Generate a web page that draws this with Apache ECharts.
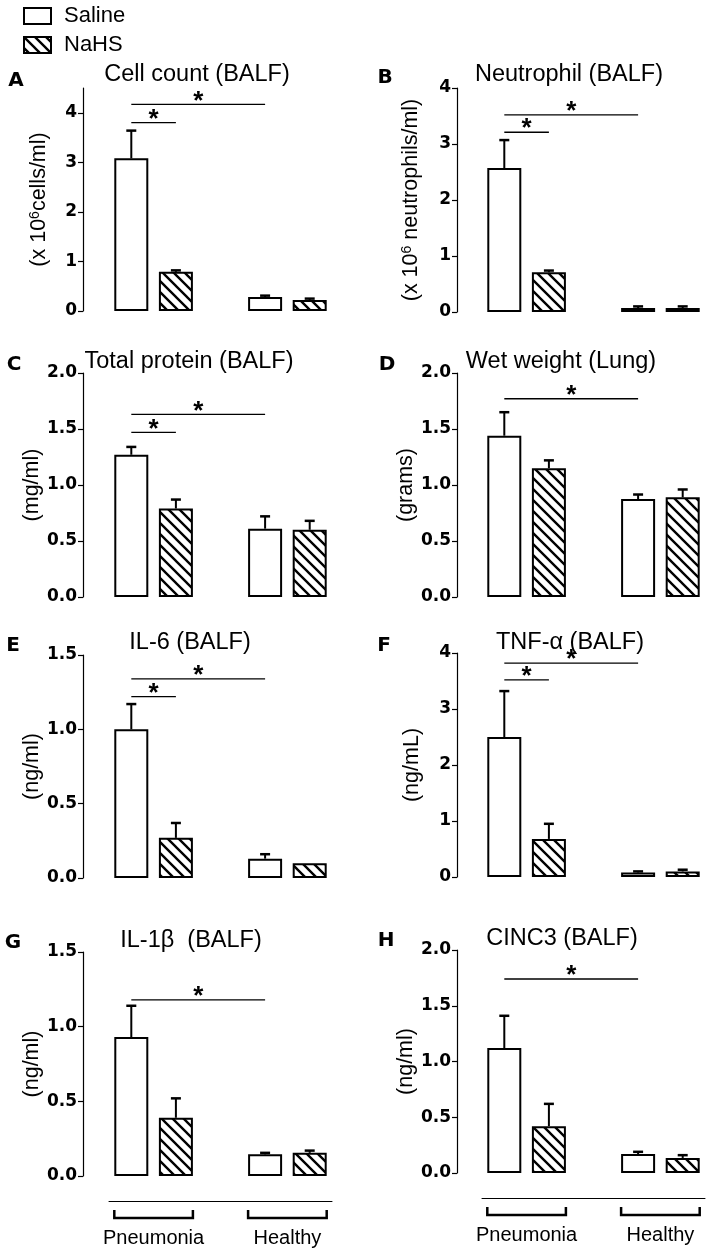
<!DOCTYPE html>
<html>
<head>
<meta charset="utf-8">
<script src="https://cdn.jsdelivr.net/npm/echarts@6/dist/echarts.min.js"></script>
<style>
  html, body { margin: 0; padding: 0; background: #fff; }
  #chart { width: 710px; height: 1254px; }
</style>
</head>
<body>
<div id="chart"></div>
<script>
// x slots: two bars per group with an empty slot between the groups
const categories = ['Pneumonia Saline', 'Pneumonia NaHS', '', 'Healthy Saline', 'Healthy NaHS'];
const groupNames = ['Pneumonia', 'Healthy'];
const barSlots = [0, 1, 3, 4];

// mean / SEM, order: pneumonia saline, pneumonia NaHS, healthy saline, healthy NaHS
const cellCountMean = [3.08, 0.79, 0.28, 0.22];
const cellCountSem = [0.56, 0.03, 0.03, 0.03];
const neutrophilMean = [2.57, 0.71, 0.07, 0.07];
const neutrophilSem = [0.50, 0.03, 0.03, 0.03];
const proteinMean = [1.27, 0.79, 0.61, 0.60];
const proteinSem = [0.07, 0.08, 0.11, 0.08];
const wetWeightMean = [1.44, 1.15, 0.875, 0.89];
const wetWeightSem = [0.21, 0.07, 0.04, 0.07];
const il6Mean = [1.00, 0.27, 0.13, 0.10];
const il6Sem = [0.17, 0.10, 0.03, 0];
const tnfMean = [2.50, 0.68, 0.08, 0.10];
const tnfSem = [0.82, 0.27, 0.02, 0.03];
const il1bMean = [0.93, 0.39, 0.145, 0.155];
const il1bSem = [0.21, 0.13, 0.01, 0.015];
const cinc3Mean = [1.12, 0.42, 0.17, 0.135];
const cinc3Sem = [0.29, 0.20, 0.02, 0.025];

// significance bars: [from slot, to slot, height]
const cellCountSig = [[0, 3, 4.17], [0, 1, 3.8]];
const neutrophilSig = [[0, 3, 3.52], [0, 1, 3.21]];
const proteinSig = [[0, 3, 1.63], [0, 1, 1.47]];
const wetWeightSig = [[0, 3, 1.77]];
const il6Sig = [[0, 3, 1.34], [0, 1, 1.22]];
const tnfSig = [[0, 3, 3.82], [0, 1, 3.52]];
const il1bSig = [[0, 3, 1.18]];
const cinc3Sig = [[0, 3, 1.74]];

// y tick values
const ticks4 = [0, 1, 2, 3, 4];
const ticks2 = [0, 0.5, 1, 1.5, 2];
const ticks15 = [0, 0.5, 1, 1.5];

const FONT = '"Liberation Sans", Arial, sans-serif';
const BOLD_FONT = '"DejaVu Sans", "Liberation Sans", sans-serif';
const BAR_W = 34;

const panels = [
  {letter: 'A', title: 'Cell count (BALF)', yName: '(x 10{sup|6}cells/ml)', mean: cellCountMean, sem: cellCountSem, sig: cellCountSig,
    max: 4.5, ticks: ticks4, dec: 0, left: 109, axisX: 83, top: 88, height: 223, tx: 197, ty: 75, lx: 16, ly: 81, gap: 33},
  {letter: 'B', title: 'Neutrophil (BALF)', yName: '(x 10{sup|6} neutrophils/ml)', mean: neutrophilMean, sem: neutrophilSem, sig: neutrophilSig,
    max: 4, ticks: ticks4, dec: 0, left: 482, axisX: 457, top: 88, height: 224, tx: 569, ty: 75, lx: 385, ly: 78, gap: 35},
  {letter: 'C', title: 'Total protein (BALF)', yName: '(mg/ml)', mean: proteinMean, sem: proteinSem, sig: proteinSig,
    max: 2, ticks: ticks2, dec: 1, left: 109, axisX: 83, top: 373, height: 224, tx: 189, ty: 362, lx: 14, ly: 365, gap: 33},
  {letter: 'D', title: 'Wet weight (Lung)', yName: '(grams)', mean: wetWeightMean, sem: wetWeightSem, sig: wetWeightSig,
    max: 2, ticks: ticks2, dec: 1, left: 482, axisX: 457, top: 373, height: 224, tx: 561, ty: 362, lx: 387, ly: 365, gap: 39},
  {letter: 'E', title: 'IL-6 (BALF)', yName: '(ng/ml)', mean: il6Mean, sem: il6Sem, sig: il6Sig,
    max: 1.5, ticks: ticks15, dec: 1, left: 109, axisX: 83, top: 655, height: 223, tx: 190, ty: 643, lx: 13, ly: 646, gap: 33},
  {letter: 'F', title: 'TNF-α (BALF)', yName: '(ng/mL)', mean: tnfMean, sem: tnfSem, sig: tnfSig,
    max: 4, ticks: ticks4, dec: 0, left: 482, axisX: 457, top: 653, height: 224, tx: 570, ty: 643, lx: 384, ly: 646, gap: 34},
  {letter: 'G', title: 'IL-1β  (BALF)', yName: '(ng/ml)', mean: il1bMean, sem: il1bSem, sig: il1bSig,
    max: 1.5, ticks: ticks15, dec: 1, left: 109, axisX: 83, top: 952, height: 224, tx: 191, ty: 941, lx: 13, ly: 943, gap: 33, base: true},
  {letter: 'H', title: 'CINC3 (BALF)', yName: '(ng/ml)', mean: cinc3Mean, sem: cinc3Sem, sig: cinc3Sig,
    max: 2, ticks: ticks2, dec: 1, left: 482, axisX: 457, top: 950, height: 223, tx: 562, ty: 939, lx: 386, ly: 941, gap: 35, base: true}
];

// diagonal hatch tile for the NaHS bars
function hatchTile() {
  const s = 11;
  const c = document.createElement('canvas');
  c.width = s; c.height = s;
  const ctx = c.getContext('2d');
  ctx.fillStyle = '#fff';
  ctx.fillRect(0, 0, s, s);
  ctx.strokeStyle = '#000';
  ctx.lineWidth = 2.4;
  ctx.beginPath();
  ctx.moveTo(-1, -1); ctx.lineTo(s + 1, s + 1);
  ctx.moveTo(-2, s - 2); ctx.lineTo(2, s + 2);
  ctx.moveTo(s - 2, -2); ctx.lineTo(s + 2, 2);
  ctx.stroke();
  return c;
}
const hatch = {image: hatchTile(), repeat: 'repeat'};

function slotData(vals, idx) {
  const out = categories.map(() => '-');
  idx.forEach(i => { out[barSlots[i]] = vals[i]; });
  return out;
}

function errorItem(params, api) {
  const x = api.value(0);
  const p0 = api.coord([x, api.value(1)]);
  const p1 = api.coord([x, api.value(2)]);
  if (p0[1] - p1[1] < 0.5) return null;
  return {type: 'group', children: [
    {type: 'line', shape: {x1: p0[0], y1: p0[1], x2: p1[0], y2: p1[1]}, style: {stroke: '#000', lineWidth: 2}},
    {type: 'line', shape: {x1: p1[0] - 5, y1: p1[1], x2: p1[0] + 5, y2: p1[1]}, style: {stroke: '#000', lineWidth: 2.5}}
  ]};
}

function sigItem(params, api) {
  const a = api.coord([api.value(0), api.value(2)]);
  const b = api.coord([api.value(1), api.value(2)]);
  return {type: 'group', children: [
    {type: 'line', shape: {x1: a[0], y1: a[1], x2: b[0], y2: b[1]}, style: {stroke: '#000', lineWidth: 1.3}},
    {type: 'text', style: {text: '*', x: (a[0] + b[0]) / 2, y: a[1] - 3, align: 'center', verticalAlign: 'middle',
      font: 'bold 26px ' + FONT, fill: '#000'}}
  ]};
}

function groupItem(params, api) {
  const a = api.coord([api.value(0), 0]);
  const b = api.coord([api.value(1), 0]);
  const x1 = a[0] - BAR_W / 2, x2 = b[0] + BAR_W / 2, y = a[1] + 42;
  return {type: 'group', children: [
    {type: 'polyline', shape: {points: [[x1, y - 8], [x1, y], [x2, y], [x2, y - 8]]}, style: {stroke: '#000', lineWidth: 2.5, fill: null}},
    {type: 'text', style: {text: groupNames[params.dataIndex], x: (x1 + x2) / 2, y: y + 20, align: 'center', verticalAlign: 'middle',
      font: '20px ' + FONT, fill: '#000'}}
  ]};
}

const grid = [], xAxis = [], yAxis = [], series = [], graphic = [];

panels.forEach((p, k) => {
  grid.push({left: p.left, top: p.top, width: 223, height: p.height, outerBoundsMode: 'none'});
  xAxis.push({
    type: 'category', gridIndex: k, data: categories, show: !!p.base, offset: 25,
    axisLine: {show: !!p.base, onZero: false, lineStyle: {color: '#000', width: 1}},
    axisTick: {show: false}, axisLabel: {show: false}, splitLine: {show: false}
  });
  yAxis.push({
    type: 'value', gridIndex: k, min: 0, max: p.max, interval: p.ticks[1], offset: p.left - p.axisX,
    splitLine: {show: false},
    axisLine: {show: true, lineStyle: {color: '#000', width: 1.2}},
    axisTick: {show: true, length: 5, lineStyle: {color: '#000', width: 1.2}, customValues: p.ticks},
    axisLabel: {customValues: p.ticks, formatter: v => v.toFixed(p.dec), fontWeight: 'bold', fontSize: 17,
      color: '#000', fontFamily: BOLD_FONT, margin: 6},
    name: p.yName, nameLocation: 'middle', nameRotate: 90, nameGap: p.gap,
    nameTextStyle: {fontSize: 21.5, color: '#000', fontFamily: FONT,
      rich: {sup: {fontSize: 14, color: '#000', fontFamily: FONT, verticalAlign: 'top'}}}
  });
  series.push({
    type: 'bar', name: 'Saline', xAxisIndex: k, yAxisIndex: k, barWidth: BAR_W, barGap: '-100%', silent: true,
    data: slotData(p.mean, [0, 2]), itemStyle: {color: '#fff', borderColor: '#000', borderWidth: 2}
  });
  series.push({
    type: 'bar', name: 'NaHS', xAxisIndex: k, yAxisIndex: k, barWidth: BAR_W, barGap: '-100%', silent: true,
    data: slotData(p.mean, [1, 3]), itemStyle: {color: hatch, borderColor: '#000', borderWidth: 2}
  });
  series.push({
    type: 'custom', xAxisIndex: k, yAxisIndex: k, silent: true, z: 3, renderItem: errorItem,
    data: p.mean.map((m, i) => [barSlots[i], m, m + p.sem[i]])
  });
  series.push({
    type: 'custom', xAxisIndex: k, yAxisIndex: k, silent: true, z: 3, renderItem: sigItem,
    encode: {x: [0, 1], y: 2}, data: p.sig
  });
  if (p.base) {
    series.push({
      type: 'custom', xAxisIndex: k, yAxisIndex: k, silent: true, renderItem: groupItem,
      data: [[0, 1], [3, 4]]
    });
  }
  graphic.push({type: 'text', x: p.tx, y: p.ty, silent: true,
    style: {text: p.title, font: '23.5px ' + FONT, fill: '#000', align: 'center', verticalAlign: 'middle',
      textAlign: 'center', textVerticalAlign: 'middle'}});
  graphic.push({type: 'text', x: p.lx, y: p.ly, silent: true,
    style: {text: p.letter, font: 'bold 20px ' + BOLD_FONT, fill: '#000', align: 'center', verticalAlign: 'middle',
      textAlign: 'center', textVerticalAlign: 'middle'}});
});

const chart = echarts.init(document.getElementById('chart'));
chart.setOption({
  animation: false,
  backgroundColor: '#fff',
  legend: {
    data: ['Saline', 'NaHS'], orient: 'vertical', left: 18, top: 0, icon: 'rect',
    itemWidth: 27, itemHeight: 16, itemGap: 7, selectedMode: false,
    itemStyle: {borderColor: '#000', borderWidth: 2},
    textStyle: {fontSize: 22, color: '#000', fontFamily: FONT, padding: [0, 0, 0, 8]}
  },
  grid: grid,
  xAxis: xAxis,
  yAxis: yAxis,
  graphic: graphic,
  series: series
});
</script>
</body>
</html>
